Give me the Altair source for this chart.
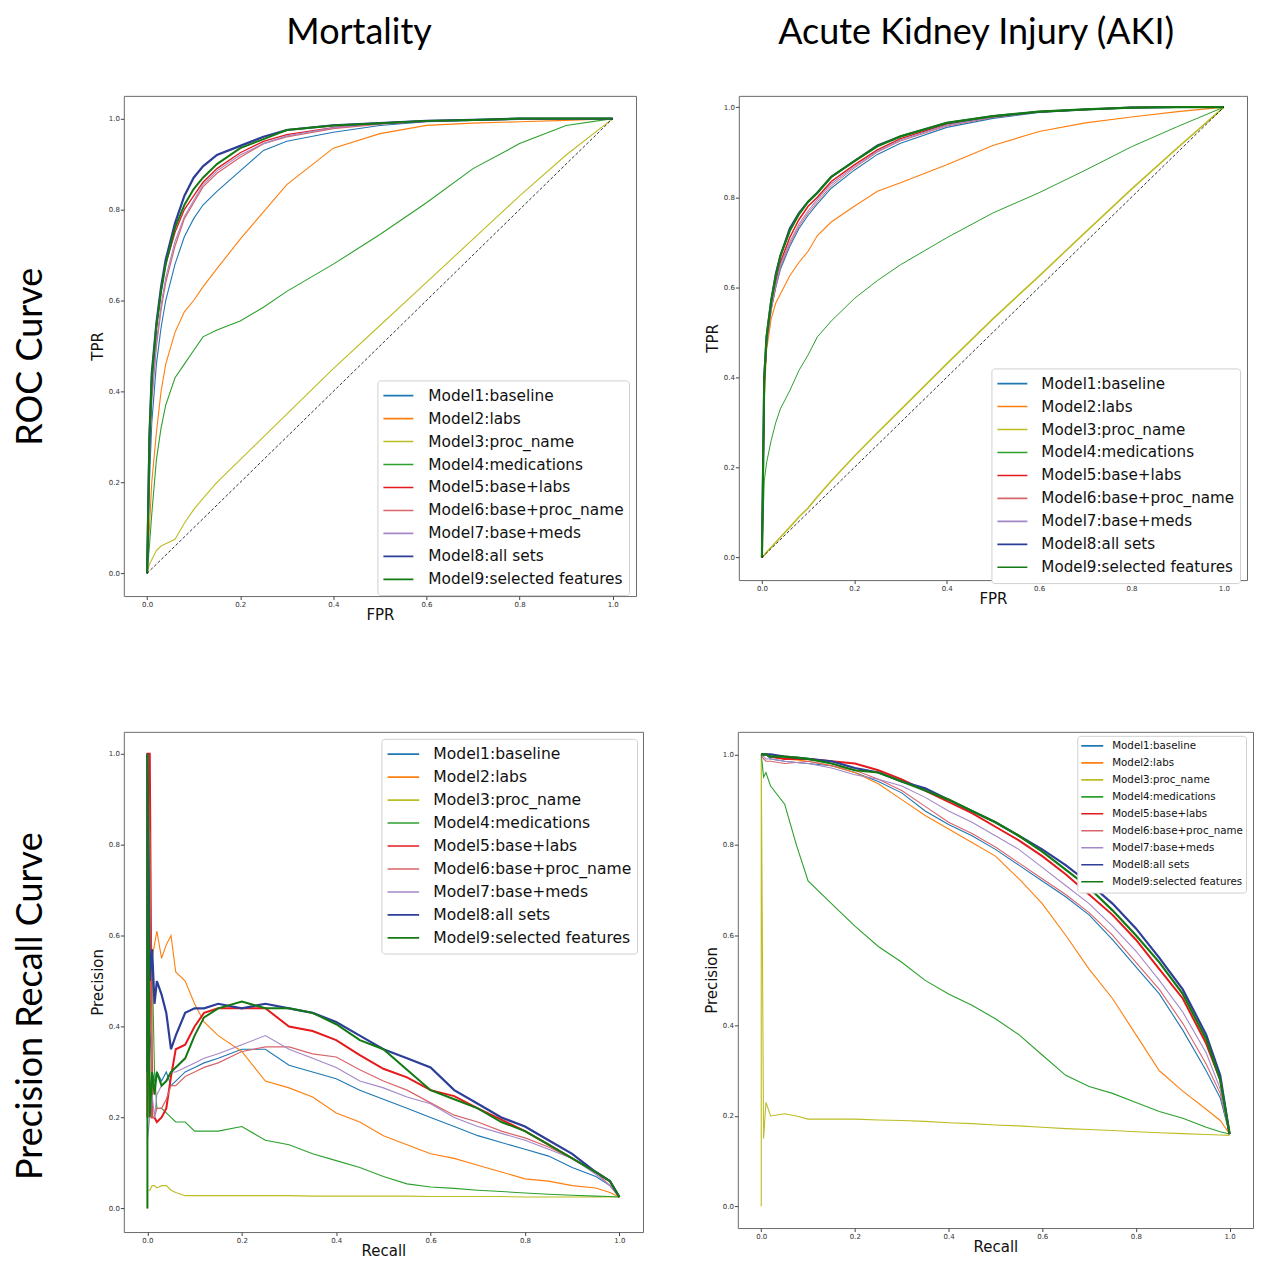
import altair as alt
import pandas as pd

MODELS = ["Model1:baseline", "Model2:labs", "Model3:proc_name", "Model4:medications",
          "Model5:base+labs", "Model6:base+proc_name", "Model7:base+meds",
          "Model8:all sets", "Model9:selected features"]
COLORS = ["#1f77b4", "#ff7f0e", "#bcbd22", "#2ca02c", "#e41a1c",
          "#d9646a", "#a487c8", "#2c3e98", "#137a13"]
TICKS = [0.0, 0.2, 0.4, 0.6, 0.8, 1.0]

# ---------------- ROC curves (shared FPR grid) ----------------
ROC_FPR = [0, 0.005, 0.01, 0.02, 0.03, 0.04, 0.06, 0.08, 0.1, 0.12, 0.15,
           0.2, 0.25, 0.3, 0.4, 0.5, 0.6, 0.7, 0.8, 0.9, 1.0]

mort_roc_m1 = [0, 0.2, 0.33, 0.46, 0.54, 0.6, 0.68, 0.74, 0.78, 0.81, 0.84, 0.885, 0.93, 0.95, 0.97, 0.985, 0.993, 0.996, 0.998, 0.999, 1.0]
mort_roc_m2 = [0, 0.1, 0.2, 0.31, 0.4, 0.46, 0.53, 0.575, 0.6, 0.63, 0.67, 0.735, 0.795, 0.855, 0.935, 0.967, 0.985, 0.99, 0.993, 0.996, 1.0]
mort_roc_m3 = [0, 0.02, 0.03, 0.05, 0.06, 0.065, 0.075, 0.11, 0.14, 0.165, 0.2, 0.25, 0.3, 0.35, 0.45, 0.545, 0.64, 0.735, 0.83, 0.92, 1.0]
mort_roc_m4 = [0, 0.06, 0.13, 0.25, 0.32, 0.37, 0.43, 0.46, 0.49, 0.52, 0.535, 0.555, 0.585, 0.62, 0.68, 0.745, 0.815, 0.89, 0.945, 0.985, 1.0]
mort_roc_m5 = [0, 0.28, 0.42, 0.54, 0.62, 0.68, 0.75, 0.8, 0.83, 0.86, 0.89, 0.925, 0.95, 0.965, 0.98, 0.99, 0.995, 0.997, 0.999, 1.0, 1.0]
mort_roc_m6 = [0, 0.25, 0.38, 0.5, 0.58, 0.64, 0.72, 0.78, 0.815, 0.85, 0.88, 0.915, 0.945, 0.96, 0.978, 0.988, 0.994, 0.997, 0.999, 1.0, 1.0]
mort_roc_m7 = [0, 0.26, 0.39, 0.51, 0.59, 0.65, 0.73, 0.785, 0.82, 0.855, 0.885, 0.92, 0.945, 0.962, 0.98, 0.99, 0.995, 0.997, 0.999, 1.0, 1.0]
mort_roc_m8 = [0, 0.3, 0.44, 0.55, 0.63, 0.69, 0.77, 0.83, 0.87, 0.895, 0.92, 0.94, 0.96, 0.975, 0.985, 0.99, 0.995, 0.997, 1.0, 1.0, 1.0]
mort_roc_m9 = [0, 0.3, 0.43, 0.545, 0.62, 0.68, 0.76, 0.81, 0.845, 0.87, 0.9, 0.935, 0.955, 0.975, 0.985, 0.99, 0.995, 0.997, 1.0, 1.0, 1.0]

aki_roc_m1 = [0, 0.38, 0.47, 0.55, 0.6, 0.64, 0.69, 0.73, 0.76, 0.785, 0.82, 0.86, 0.895, 0.92, 0.955, 0.975, 0.988, 0.994, 0.998, 0.999, 1.0]
aki_roc_m2 = [0, 0.35, 0.46, 0.53, 0.565, 0.585, 0.625, 0.655, 0.68, 0.715, 0.745, 0.78, 0.813, 0.832, 0.872, 0.915, 0.946, 0.965, 0.978, 0.99, 1.0]
aki_roc_m3 = [0, 0.005, 0.012, 0.023, 0.034, 0.045, 0.067, 0.09, 0.11, 0.135, 0.17, 0.225, 0.277, 0.328, 0.43, 0.53, 0.625, 0.722, 0.818, 0.91, 1.0]
aki_roc_m4 = [0, 0.17, 0.21, 0.26, 0.3, 0.33, 0.37, 0.415, 0.45, 0.49, 0.525, 0.575, 0.615, 0.65, 0.71, 0.765, 0.81, 0.86, 0.912, 0.957, 1.0]
aki_roc_m5 = [0, 0.39, 0.48, 0.56, 0.61, 0.655, 0.71, 0.75, 0.78, 0.8, 0.835, 0.872, 0.905, 0.93, 0.962, 0.978, 0.99, 0.995, 0.999, 1.0, 1.0]
aki_roc_m6 = [0, 0.38, 0.47, 0.55, 0.6, 0.645, 0.695, 0.735, 0.765, 0.79, 0.825, 0.865, 0.9, 0.925, 0.958, 0.977, 0.989, 0.995, 0.999, 1.0, 1.0]
aki_roc_m7 = [0, 0.385, 0.475, 0.555, 0.605, 0.65, 0.7, 0.74, 0.77, 0.795, 0.83, 0.868, 0.902, 0.927, 0.96, 0.978, 0.99, 0.995, 0.999, 1.0, 1.0]
aki_roc_m8 = [0, 0.4, 0.49, 0.57, 0.63, 0.67, 0.73, 0.765, 0.79, 0.81, 0.845, 0.88, 0.915, 0.935, 0.965, 0.98, 0.99, 0.995, 0.999, 1.0, 1.0]
aki_roc_m9 = [0, 0.4, 0.49, 0.57, 0.625, 0.67, 0.725, 0.762, 0.79, 0.81, 0.845, 0.88, 0.913, 0.935, 0.965, 0.98, 0.99, 0.995, 0.999, 1.0, 1.0]

CHANCE_X = [0.0, 1.0]
CHANCE_Y = [0.0, 1.0]

# ---------------- Precision-recall curves ----------------
MORT_RECALL = [0, 0, 0.005, 0.01, 0.015, 0.02, 0.03, 0.04, 0.05, 0.06, 0.08, 0.1, 0.12, 0.15,
               0.2, 0.25, 0.3, 0.35, 0.4, 0.45, 0.5, 0.55, 0.6, 0.65, 0.7, 0.75, 0.8, 0.85,
               0.9, 0.95, 0.98, 1.0]
mort_pr_m1 = [0.25, 1.0, 0.4, 0.3, 0.28, 0.3, 0.28, 0.3, 0.27, 0.28, 0.3, 0.31, 0.32, 0.33, 0.35, 0.35, 0.315, 0.3, 0.285, 0.26, 0.24, 0.22, 0.2, 0.18, 0.16, 0.145, 0.13, 0.115, 0.09, 0.07, 0.05, 0.025]
mort_pr_m2 = [0.2, 0.2, 0.67, 0.55, 0.58, 0.61, 0.55, 0.58, 0.6, 0.52, 0.5, 0.45, 0.41, 0.38, 0.345, 0.28, 0.265, 0.245, 0.21, 0.19, 0.16, 0.14, 0.12, 0.11, 0.095, 0.08, 0.065, 0.06, 0.05, 0.045, 0.035, 0.025]
mort_pr_m3 = [0.0, 0.04, 0.04, 0.05, 0.05, 0.045, 0.05, 0.05, 0.04, 0.035, 0.028, 0.028, 0.028, 0.028, 0.028, 0.028, 0.028, 0.027, 0.027, 0.027, 0.027, 0.027, 0.026, 0.026, 0.026, 0.026, 0.025, 0.025, 0.025, 0.025, 0.025, 0.025]
mort_pr_m4 = [0.3, 0.3, 0.4, 0.55, 0.3, 0.22, 0.22, 0.21, 0.2, 0.19, 0.19, 0.17, 0.17, 0.17, 0.18, 0.15, 0.14, 0.12, 0.105, 0.09, 0.07, 0.054, 0.047, 0.044, 0.04, 0.037, 0.034, 0.031, 0.029, 0.027, 0.026, 0.025]
mort_pr_m5 = [0.2, 1.0, 1.0, 0.2, 0.2, 0.19, 0.2, 0.22, 0.29, 0.35, 0.36, 0.4, 0.43, 0.44, 0.44, 0.44, 0.4, 0.39, 0.37, 0.337, 0.307, 0.288, 0.26, 0.247, 0.22, 0.195, 0.17, 0.14, 0.11, 0.08, 0.06, 0.025]
mort_pr_m6 = [0.2, 0.2, 0.83, 0.2, 0.2, 0.22, 0.22, 0.24, 0.27, 0.27, 0.29, 0.3, 0.31, 0.32, 0.345, 0.355, 0.355, 0.34, 0.333, 0.305, 0.28, 0.26, 0.232, 0.205, 0.19, 0.17, 0.155, 0.135, 0.11, 0.08, 0.05, 0.025]
mort_pr_m7 = [0.15, 0.15, 0.2, 0.25, 0.2, 0.25, 0.27, 0.28, 0.3, 0.3, 0.31, 0.32, 0.33, 0.34, 0.36, 0.38, 0.35, 0.33, 0.31, 0.28, 0.265, 0.245, 0.23, 0.2, 0.18, 0.165, 0.15, 0.13, 0.11, 0.075, 0.05, 0.025]
mort_pr_m8 = [0.3, 1.0, 0.5, 0.57, 0.45, 0.5, 0.47, 0.43, 0.35, 0.38, 0.43, 0.44, 0.44, 0.45, 0.44, 0.45, 0.44, 0.43, 0.41, 0.38, 0.35, 0.33, 0.31, 0.26, 0.23, 0.2, 0.18, 0.15, 0.12, 0.08, 0.06, 0.025]
mort_pr_m9 = [0.0, 1.0, 0.2, 0.3, 0.25, 0.3, 0.27, 0.28, 0.3, 0.31, 0.33, 0.38, 0.42, 0.44, 0.455, 0.44, 0.44, 0.43, 0.405, 0.37, 0.35, 0.305, 0.26, 0.24, 0.22, 0.19, 0.17, 0.14, 0.11, 0.08, 0.06, 0.025]

AKI_RECALL = [0, 0, 0.005, 0.01, 0.02, 0.05, 0.075, 0.1, 0.15, 0.2, 0.25, 0.3, 0.35, 0.4,
              0.45, 0.5, 0.55, 0.6, 0.65, 0.7, 0.75, 0.8, 0.85, 0.9, 0.95, 0.98, 1.0]
aki_pr_m1 = [1.0, 1.0, 1.0, 1.0, 0.99, 0.985, 0.982, 0.98, 0.975, 0.96, 0.94, 0.915, 0.875, 0.845, 0.82, 0.79, 0.755, 0.72, 0.685, 0.645, 0.59, 0.53, 0.47, 0.39, 0.3, 0.24, 0.16]
aki_pr_m2 = [1.0, 1.0, 1.0, 1.0, 0.995, 0.99, 0.988, 0.985, 0.975, 0.96, 0.935, 0.9, 0.865, 0.835, 0.805, 0.775, 0.725, 0.67, 0.6, 0.525, 0.46, 0.38, 0.3, 0.255, 0.215, 0.19, 0.16]
aki_pr_m3 = [0.0, 1.0, 0.15, 0.23, 0.2, 0.205, 0.2, 0.193, 0.193, 0.193, 0.191, 0.19, 0.188, 0.185, 0.183, 0.18, 0.178, 0.175, 0.172, 0.17, 0.168, 0.165, 0.163, 0.161, 0.159, 0.158, 0.157]
aki_pr_m4 = [1.0, 1.0, 0.95, 0.96, 0.93, 0.89, 0.8, 0.72, 0.67, 0.62, 0.575, 0.54, 0.5, 0.47, 0.445, 0.415, 0.38, 0.335, 0.29, 0.265, 0.25, 0.23, 0.21, 0.195, 0.175, 0.165, 0.16]
aki_pr_m5 = [1.0, 1.0, 1.0, 1.0, 0.995, 0.99, 0.99, 0.99, 0.985, 0.98, 0.965, 0.945, 0.92, 0.895, 0.87, 0.84, 0.81, 0.775, 0.735, 0.69, 0.645, 0.59, 0.525, 0.46, 0.36, 0.28, 0.16]
aki_pr_m6 = [1.0, 1.0, 0.99, 0.985, 0.985, 0.98, 0.982, 0.985, 0.975, 0.965, 0.945, 0.92, 0.885, 0.85, 0.825, 0.795, 0.76, 0.725, 0.69, 0.65, 0.6, 0.54, 0.48, 0.405, 0.315, 0.25, 0.16]
aki_pr_m7 = [1.0, 1.0, 0.995, 0.99, 0.99, 0.985, 0.982, 0.98, 0.97, 0.955, 0.945, 0.93, 0.905, 0.875, 0.85, 0.82, 0.79, 0.75, 0.71, 0.67, 0.62, 0.565, 0.5, 0.43, 0.34, 0.26, 0.16]
aki_pr_m8 = [1.0, 1.0, 1.0, 1.0, 1.0, 0.995, 0.993, 0.99, 0.985, 0.97, 0.96, 0.94, 0.925, 0.9, 0.875, 0.85, 0.82, 0.79, 0.755, 0.715, 0.67, 0.615, 0.55, 0.48, 0.38, 0.29, 0.16]
aki_pr_m9 = [1.0, 1.0, 1.0, 1.0, 0.995, 0.995, 0.993, 0.99, 0.98, 0.965, 0.96, 0.94, 0.92, 0.9, 0.875, 0.85, 0.82, 0.785, 0.745, 0.705, 0.655, 0.6, 0.54, 0.47, 0.37, 0.28, 0.16]

# line widths per model for each panel (style, not data)
W_MORT_ROC = [1.1, 1.1, 1.1, 1.1, 1.3, 1.3, 1.1, 2.2, 2.0]
W_AKI_ROC = [1.1, 1.1, 1.6, 1.0, 1.5, 1.0, 1.1, 2.0, 2.2]
W_MORT_PR = [1.1, 1.1, 1.1, 1.1, 2.0, 1.2, 1.1, 2.2, 2.0]
W_AKI_PR = [1.1, 1.1, 1.1, 1.1, 2.0, 1.1, 1.1, 2.2, 2.2]

TICK_FONT = "DejaVu Sans"


def build_df(xs, series, widths):
    rows = []
    for m, ys, lw in zip(MODELS, series, widths):
        for i, (xv, yv) in enumerate(zip(xs, ys)):
            rows.append({"model": m, "x": xv, "y": yv, "i": i, "w": lw})
    return pd.DataFrame(rows)


def axis(title, tpad):
    return alt.Axis(values=TICKS, format=".1f", title=title, grid=False, domain=False,
                    tickSize=3.5, tickColor="#444", labelFontSize=7, labelFont=TICK_FONT,
                    labelColor="#333", labelPadding=1, titleFont=TICK_FONT, titleFontSize=15,
                    titleFontWeight="normal", titleColor="#111", titlePadding=tpad)


def panel(xs, series, widths, xtitle, ytitle, w, h, ydom, leg, diag=False, title=None, title_dx=0):
    df = build_df(xs, series, widths)
    xsc = alt.Scale(domain=[-0.05, 1.05], nice=False, zero=False)
    ysc = alt.Scale(domain=ydom, nice=False, zero=False)
    legend = alt.Legend(orient="none", legendX=leg["x"], legendY=leg["y"], title=None,
                        fillColor="white", strokeColor="#d0d0d0", cornerRadius=3,
                        padding=leg["pad"], symbolType="stroke", symbolStrokeWidth=1.6,
                        symbolSize=leg["sym"], labelFont=TICK_FONT, labelFontSize=leg["fs"],
                        labelColor="#111", labelLimit=500, labelOffset=leg["off"],
                        clipHeight=leg["clip"], rowPadding=2)
    lines = alt.Chart(df).mark_line(clip=True).encode(
        x=alt.X("x:Q", scale=xsc, axis=axis(xtitle, 0)),
        y=alt.Y("y:Q", scale=ysc, axis=axis(ytitle, 3)),
        color=alt.Color("model:N", scale=alt.Scale(domain=MODELS, range=COLORS), legend=legend),
        strokeWidth=alt.StrokeWidth("w:Q", scale=None, legend=None),
        order=alt.Order("i:Q"),
    )
    layers = [lines]
    if diag:
        ddf = pd.DataFrame({"x": CHANCE_X, "y": CHANCE_Y})
        d = alt.Chart(ddf).mark_line(color="black", strokeDash=[3, 2], strokeWidth=0.8).encode(
            x=alt.X("x:Q", scale=xsc), y=alt.Y("y:Q", scale=ysc))
        layers.append(d)
    props = dict(width=w, height=h)
    if title:
        props["title"] = alt.TitleParams(title, font="Lato", fontSize=36, fontWeight="normal",
                                         color="black", anchor="middle", frame="bounds",
                                         offset=44, dx=title_dx)
    return alt.layer(*layers).properties(**props)


tl = panel(ROC_FPR, [mort_roc_m1, mort_roc_m2, mort_roc_m3, mort_roc_m4, mort_roc_m5,
                     mort_roc_m6, mort_roc_m7, mort_roc_m8, mort_roc_m9],
           W_MORT_ROC, "FPR", "TPR", 513, 501, [-0.05, 1.05],
           dict(x=254, y=285, pad=5, sym=900, fs=15.4, off=14, clip=20.5), diag=True,
           title="Mortality", title_dx=-4)
tr = panel(ROC_FPR, [aki_roc_m1, aki_roc_m2, aki_roc_m3, aki_roc_m4, aki_roc_m5,
                     aki_roc_m6, aki_roc_m7, aki_roc_m8, aki_roc_m9],
           W_AKI_ROC, "FPR", "TPR", 509, 485, [-0.05, 1.025],
           dict(x=253, y=273, pad=5, sym=900, fs=15.2, off=13, clip=20.4), diag=True,
           title="Acute Kidney Injury (AKI)", title_dx=0)
bl = panel(MORT_RECALL, [mort_pr_m1, mort_pr_m2, mort_pr_m3, mort_pr_m4, mort_pr_m5,
                         mort_pr_m6, mort_pr_m7, mort_pr_m8, mort_pr_m9],
           W_MORT_PR, "Recall", "Precision", 520, 501, [-0.052, 1.048],
           dict(x=258, y=7, pad=5, sym=1000, fs=15.6, off=13, clip=20.7))
br = panel(AKI_RECALL, [aki_pr_m1, aki_pr_m2, aki_pr_m3, aki_pr_m4, aki_pr_m5,
                        aki_pr_m6, aki_pr_m7, aki_pr_m8, aki_pr_m9],
           W_AKI_PR, "Recall", "Precision", 516, 497, [-0.048, 1.05],
           dict(x=340, y=4, pad=3, sym=484, fs=10.3, off=8, clip=14.2))

row_title = dict(font="Lato", fontSize=36, fontWeight="normal", color="black", orient="left",
                 anchor="middle")
top = alt.hconcat(tl, tr, spacing=67,
                  title=alt.TitleParams("ROC Curve", offset=40, dx=-38, **row_title)
                  ).resolve_scale(color="independent").resolve_legend(color="independent")
bottom = alt.hconcat(bl, br, spacing=59,
                     title=alt.TitleParams("Precision Recall Curve", offset=40, dx=-11, **row_title)
                     ).resolve_scale(color="independent").resolve_legend(color="independent")

chart = alt.vconcat(top, bottom, spacing=108).resolve_scale(color="independent").resolve_legend(
    color="independent").configure(
    padding={"left": 4, "top": 5, "right": 0, "bottom": 0}).configure_view(
    stroke="#6a6a6a", strokeWidth=1)

chart.save("out.html", embed_options={"renderer": "svg", "actions": False})
